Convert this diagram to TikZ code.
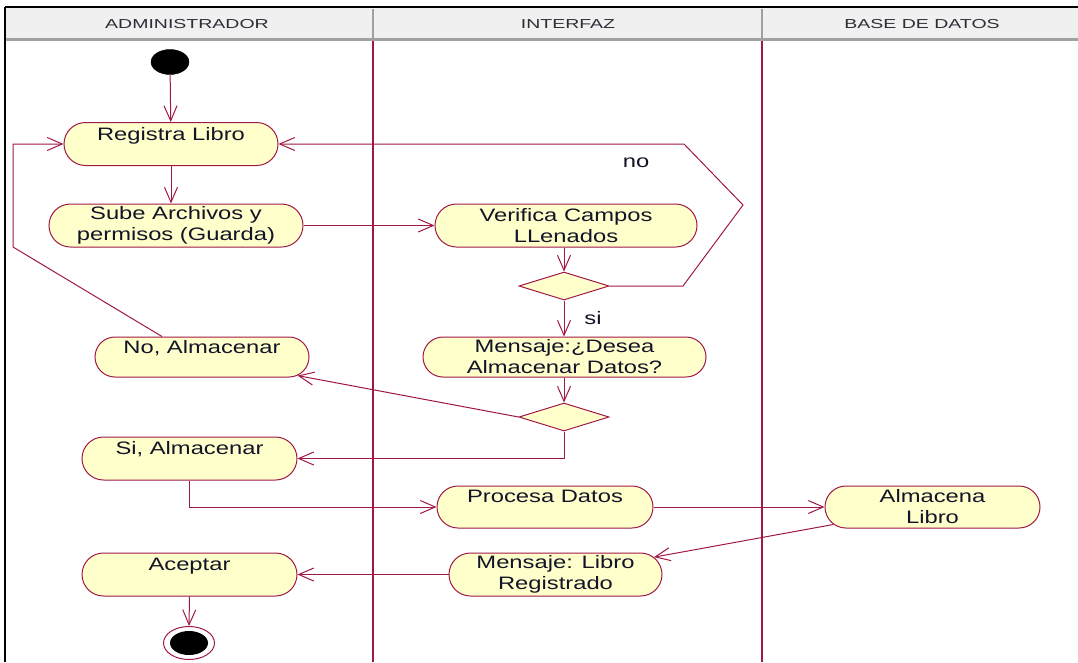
\documentclass[tikz,border=0pt]{standalone}
\usepackage{fontspec}
\usetikzlibrary{arrows.meta,shapes.misc,shapes.geometric}
\newfontfamily\nodefnt[FakeStretch=1.32]{Liberation Sans}
\newfontfamily\headfnt[FakeStretch=1.5]{Liberation Sans}
\definecolor{rose}{RGB}{160,25,70}
\definecolor{actfill}{RGB}{255,255,204}
\definecolor{hdrfill}{RGB}{240,240,240}
\definecolor{hdrline}{RGB}{160,160,160}
\definecolor{txt}{RGB}{20,20,40}
\definecolor{hdtxt}{RGB}{45,45,55}
\begin{document}
\begin{tikzpicture}[x=1pt,y=-1pt,
  actbox/.style={rounded rectangle, draw=rose, fill=actfill, line width=1pt, inner sep=0pt,
    align=center, font=\nodefnt\fontsize{18}{21}\selectfont, text=txt, minimum height=43pt},
  decbox/.style={diamond, draw=rose, fill=actfill, line width=1pt, inner sep=0pt,
    minimum width=90pt, minimum height=28pt},
  arr/.style={draw=rose, line width=1pt, -{Straight Barb[length=15pt,width=13pt]}},
  lnk/.style={draw=rose, line width=1pt},
  lbl/.style={font=\nodefnt\fontsize{18}{21}\selectfont, text=txt, inner sep=0pt},
  hd/.style={font=\headfnt\fontsize{13}{15}\selectfont, text=hdtxt, inner sep=0pt},
  lane/.style={draw=rose, line width=1.3pt}
]
\useasboundingbox (0,0) rectangle (1078,662);
\fill[white] (0,0) rectangle (1078,662);

% header
\fill[hdrfill] (5,8) rectangle (1078,39);
\draw[hdrline, line width=3pt] (5,39.5) -- (1078,39.5);
\draw[hdrline, line width=2pt] (373,9) -- (373,39);
\draw[hdrline, line width=2pt] (762,9) -- (762,39);
\node[hd] (h1) at (187,24) {ADMINISTRADOR};
\node[hd] (h2) at (568,24) {INTERFAZ};
\node[hd] (h3) at (922,24) {BASE DE DATOS};

% frame
\draw[black, line width=2.5pt] (5,7) -- (1078,7);
\draw[black, line width=2.5pt] (5,7) -- (5,662);

% lanes
\draw[lane] (373,41) -- (373,662);
\draw[lane] (762,41) -- (762,662);

% nodes
\node[ellipse, fill=black, draw=black, minimum width=38pt, minimum height=25pt, inner sep=0pt] (start) at (170,62) {};
\node[actbox, minimum width=214pt] (reg) at (171,144) {Registra Libro\\\mbox{}};
\node[actbox, minimum width=254pt] (sube) at (176,225.5) {Sube Archivos y\\permisos (Guarda)};
\node[actbox, minimum width=262pt] (verif) at (566,225.5) {Verifica Campos\\LLenados};
\node[decbox] (d1) at (564,286) {};
\node[actbox, minimum width=283pt, minimum height=40pt] (desea) at (564.5,357) {Mensaje:¿Desea\\Almacenar Datos?};
\node[actbox, minimum width=214pt, minimum height=40pt] (noalm) at (202,357) {No, Almacenar\\\mbox{}};
\node[decbox] (d2) at (564,417) {};
\node[actbox, minimum width=215pt] (sialm) at (189.5,458.5) {Si, Almacenar\\\mbox{}};
\node[actbox, minimum width=216pt, minimum height=42pt] (proc) at (545,507) {Procesa Datos\\\mbox{}};
\node[actbox, minimum width=215pt, minimum height=42pt] (alm) at (932.5,507) {Almacena\\Libro};
\node[actbox, minimum width=213pt] (msgreg) at (555.5,574.5) {Mensaje: Libro\\Registrado};
\node[actbox, minimum width=215pt] (acep) at (189.5,574.5) {Aceptar\\\mbox{}};
\node[ellipse, draw=rose, fill=white, line width=1pt, minimum width=51pt, minimum height=33pt, inner sep=0pt] (end) at (189,643) {};
\node[ellipse, fill=black, minimum width=38pt, minimum height=24pt, inner sep=0pt] (endin) at (end.center) {};

% labels
\node[lbl] (lno) at (636,163) {no};
\node[lbl] (lsi) at (593,318) {si};

% helper coordinates
\coordinate (n1) at (683,286);
\coordinate (n2) at (743,205);
\coordinate (n3) at (684,144);
\coordinate (lp) at (162,0);
\coordinate (l1) at (13,247);

% connectors
\draw[arr] (start) -- (reg);
\draw[arr] (reg.south) -- (reg.south |- sube.north);
\draw[arr] (sube.east) -- (verif.west);
\draw[arr] (d1.north |- verif.south) -- (d1.north);
\draw[arr] (d1.east) -- (n1) -- (n2) -- (n3) -- (reg.east);
\draw[arr] (d1.south) -- (desea.north -| d1.south);
\draw[arr] (desea.south -| d2.north) -- (d2.north);
\draw[arr] (d2.west) -- (noalm.-11);
\draw[arr] (noalm.north -| lp) -- (l1) -- (l1 |- reg.west) -- (reg.west);
\draw[arr] (d2.south) |- (sialm.east);
\draw[arr] (sialm.south) |- (proc.west);
\draw[arr] (proc.east) -- (alm.west);
\draw[arr] (alm.190) -- (msgreg.10);
\draw[arr] (msgreg.west) -- (acep.east);
\draw[arr] (acep.south) -- (end.north);
\end{tikzpicture}
\end{document}
